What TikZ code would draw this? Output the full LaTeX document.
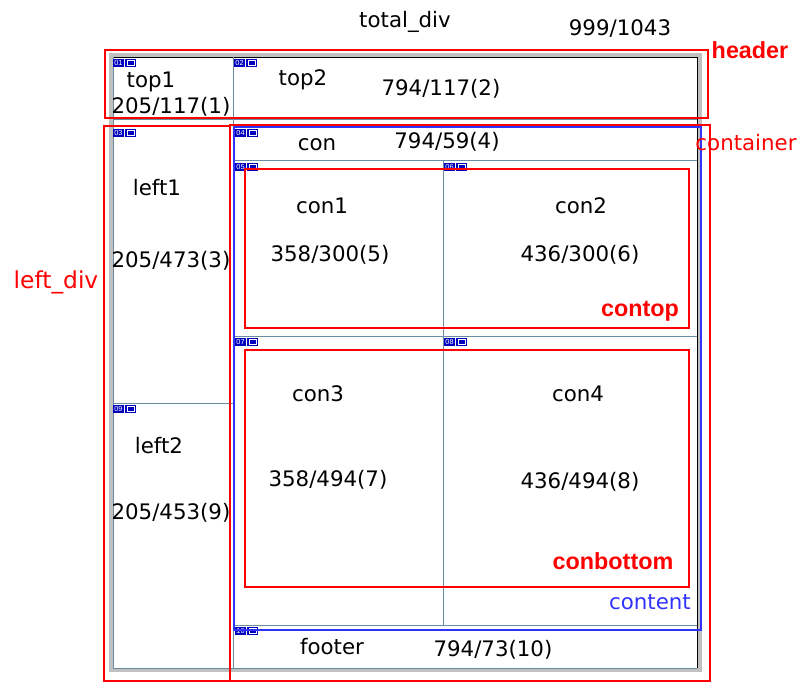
\documentclass[tikz,border=0pt]{standalone}
\usepackage{fontspec}
\setmainfont{DejaVu Sans}
\newfontfamily\labelfont{Liberation Sans}
\usetikzlibrary{positioning}

\definecolor{framegray}{RGB}{192,192,192}
\definecolor{gridgray}{RGB}{105,140,165}
\definecolor{tagblue}{RGB}{0,0,190}
\definecolor{boxblue}{RGB}{50,50,255}

\begin{document}
\begin{tikzpicture}[
        x=0.75pt, y=-0.75pt,
        every node/.style={inner sep=0pt, font=\fontsize{16}{19}\selectfont},
        gridline/.style={draw=gridgray, line width=0.75pt},
        redbox/.style={draw=red, line width=1.5pt},
        thinred/.style={draw=red, line width=0.9pt},
        bluebox/.style={draw=boxblue, line width=1.5pt},
        redlabel/.style={text=red},
        boldlabel/.style={text=red, font=\labelfont\fontsize{17.5}{20}\selectfont\bfseries},
        tagtext/.style={text=white, font=\labelfont\fontsize{5.5}{6}\selectfont}
    ]
        \useasboundingbox (0,0) rectangle (801,693);

        % Define the outer table frame
        \draw[framegray, line width=3pt] (111,55) rectangle (700,670);
        \draw[black, line width=0.75pt] (113,57) -- (697,57) -- (697,668);
        \draw[gridline] (113,57) -- (113,668) -- (697,668);

        % Draw the cell borders
        \draw[gridline] (113,119) -- (697,119);
        \draw[gridline] (233,57) -- (233,668);
        \draw[gridline] (113,403) -- (233,403);
        \draw[gridline] (233,160) -- (697,160);
        \draw[gridline] (233,336) -- (697,336);
        \draw[gridline] (233,625) -- (697,625);
        \draw[gridline] (443,160) -- (443,625);

        % Draw the cell tags (number box and picture box)
        \foreach \x/\y/\n in {113/59/01, 234/59/02, 113/129/03, 235/129/04,
                               235/163/05, 444/163/06, 235/338/07, 444/338/08,
                               113/405/09, 235/627/10} {
            \fill[tagblue] (\x,\y) rectangle ++(11,8);
            \node[tagtext] (tag\n) at (\x+5.5,\y+4) {\n};
            \fill[tagblue] (\x+12,\y) rectangle ++(11,8);
            \draw[white, line width=0.4pt] (\x+14,\y+1.5) rectangle ++(7,5);
        }

        % Draw the blue content box
        \draw[bluebox] (234,127) rectangle (701,630);

        % Draw the red region boxes
        \draw[redbox]  (105,50)  rectangle (708,118);
        \draw[thinred] (104,126) rectangle (230,681);
        \draw[redbox]  (230,125) rectangle (710,681);
        \draw[redbox]  (245,169) rectangle (689,328);
        \draw[redbox]  (245,350) rectangle (689,587);

        % Define the page labels
        \node (total)  at (405,22) {total\_div};
        \node (size)   at (620,29) {999/1043};

        % Define the cell labels
        \node (top1)   at (151,82)  {top1};
        \node (top1v)  at (171,107) {205/117(1)};
        \node (top2)   at (303,80)  {top2};
        \node (top2v)  at (441,89)  {794/117(2)};
        \node (con)    at (317,145) {con};
        \node (conv)   at (447,142) {794/59(4)};
        \node (left1)  at (157,188) {left1};
        \node (left1v) at (171,261) {205/473(3)};
        \node (con1)   at (322,206) {con1};
        \node (con1v)  at (330,255) {358/300(5)};
        \node (con2)   at (581,206) {con2};
        \node (con2v)  at (580,255) {436/300(6)};
        \node (con3)   at (318,394) {con3};
        \node (con3v)  at (328,480) {358/494(7)};
        \node (con4)   at (578,394) {con4};
        \node (con4v)  at (580,482) {436/494(8)};
        \node (left2)  at (159,446) {left2};
        \node (left2v) at (171,513) {205/453(9)};
        \node (footer) at (332,647) {footer};
        \node (footv)  at (493,650) {794/73(10)};

        % Define the region names
        \node[boldlabel] (header)    at (750,50)  {header};
        \node[redlabel]  (container) at (746,143) {container};
        \node[redlabel, font=\fontsize{17.5}{20}\selectfont] (leftdiv) at (56,282) {left\_div};
        \node[boldlabel] (contop)    at (640,311) {contop};
        \node[boldlabel] (conbottom) at (613,561) {conbottom};
        \node[text=boxblue] (content) at (650,602) {content};

    \end{tikzpicture}
\end{document}
